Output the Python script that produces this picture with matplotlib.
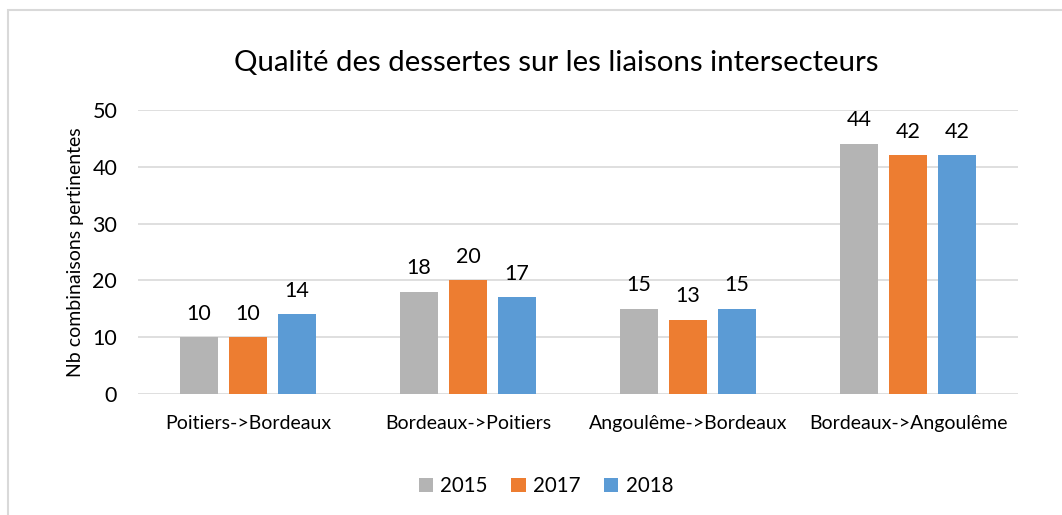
import numpy as np
import matplotlib
matplotlib.use("Agg")
import matplotlib.pyplot as plt
from matplotlib.patches import Rectangle

plt.rcParams['font.family'] = ['Lato', 'DejaVu Sans']

# Data
categories = ["Poitiers->Bordeaux", "Bordeaux->Poitiers", "Angoulême->Bordeaux", "Bordeaux->Angoulême"]
years = ["2015", "2017", "2018"]
values_2015 = [10, 18, 15, 44]
values_2017 = [10, 20, 13, 42]
values_2018 = [14, 17, 15, 42]
colors = ["#B4B4B4", "#ED7D31", "#5B9BD5"]

fig = plt.figure(figsize=(10.62, 5.15), dpi=100)
ax = fig.add_axes([0.130, 0.235, 0.8286, 0.5515])

# light frame around the chart
fig.patches.append(Rectangle((8 / 1062, -0.1), 1.2, 1 - 10 / 515 + 0.1,
                             transform=fig.transFigure, fill=False,
                             edgecolor="#D9D9D9", linewidth=1.5))

x = np.arange(len(categories))
bar_w = 0.173
pitch = 0.2227
series = [values_2015, values_2017, values_2018]
for i, (vals, col, yr) in enumerate(zip(series, colors, years)):
    pos = x + (i - 1) * pitch
    bars = ax.bar(pos, vals, width=bar_w, color=col, label=yr, zorder=3)
    for b, v in zip(bars, vals):
        ax.text(b.get_x() + b.get_width() / 2, v + 2.4, str(v),
                ha="center", va="bottom", fontsize=15.5, color="#000000")

ax.set_xlim(-0.5, len(categories) - 0.5)
ax.set_ylim(0, 50)
ax.set_yticks(range(0, 51, 10))
ax.set_xticks(x)
ax.set_xticklabels(categories, fontsize=14)
ax.tick_params(axis="y", labelsize=15.5, length=0, pad=15)
ax.tick_params(axis="x", length=0, pad=15)
ax.grid(axis="y", color="#D9D9D9", linewidth=1.2, zorder=0)
for s in ax.spines.values():
    s.set_visible(False)

ax.set_ylabel("Nb combinaisons pertinentes", fontsize=14, labelpad=6)

fig.text(0.524, 0.878, "Qualité des dessertes sur les liaisons intersecteurs",
         ha="center", va="center", fontsize=21.2)

fig.legend(loc="center", bbox_to_anchor=(0.514, 0.056), ncol=3, frameon=False,
           fontsize=14.8, handlelength=0.7, handleheight=0.7,
           handletextpad=0.35, columnspacing=1.15)

fig.savefig("out.png", dpi=100)
